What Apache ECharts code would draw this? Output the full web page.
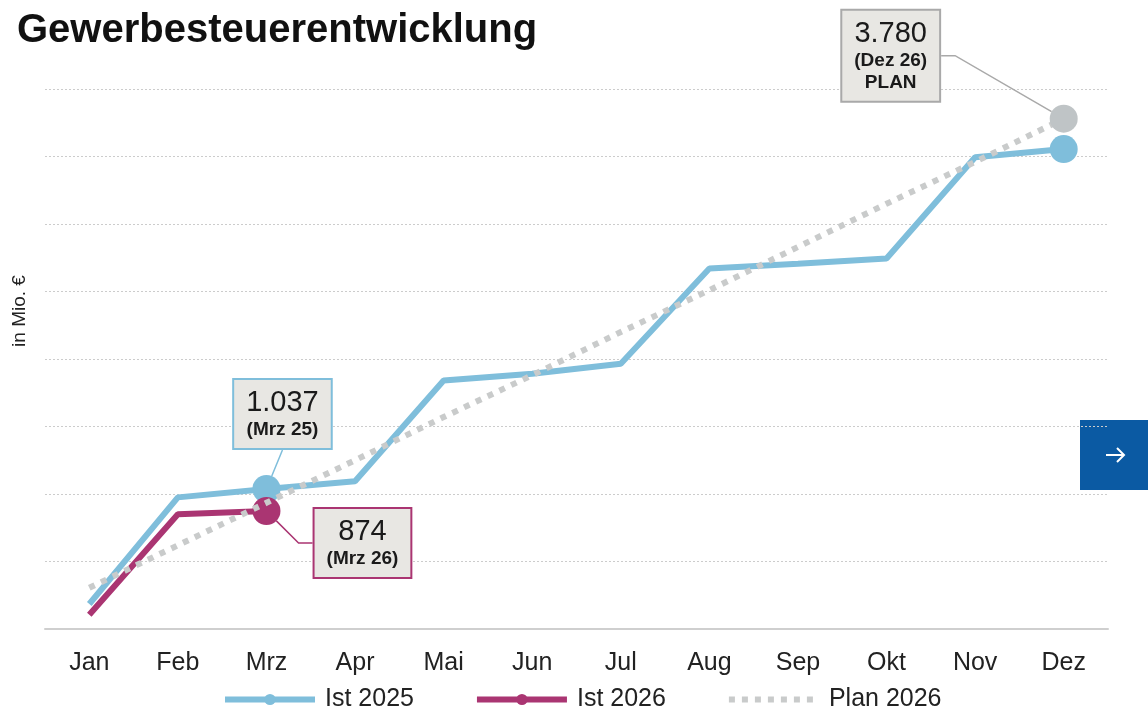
<!DOCTYPE html>
<html>
<head>
<meta charset="utf-8">
<script src="https://cdn.jsdelivr.net/npm/echarts@6/dist/echarts.min.js"></script>
<style>
  html, body { margin: 0; padding: 0; background: #fff; }
  #chart { width: 1148px; height: 713px; }
</style>
</head>
<body>
<div id="chart"></div>
<script>
var months = ['Jan', 'Feb', 'Mrz', 'Apr', 'Mai', 'Jun', 'Jul', 'Aug', 'Sep', 'Okt', 'Nov', 'Dez'];
var ist2025 = [185, 975, 1037, 1095, 1840, 1890, 1965, 2670, 2705, 2745, 3495, 3555];
var ist2026 = [105, 850, 874];
var plan2026 = [305, 620, 935, 1250, 1570, 1880, 2200, 2510, 2830, 3150, 3460, 3780];

var blue = '#7fbedb';
var magenta = '#aa3572';
var grey = '#c9cbcb';

function fmt(v) {
    return String(v).replace(/\B(?=(\d{3})+(?!\d))/g, '.');
}

// big dot + callout box on one point, all other points without symbol
function points(values, idx, color, text, lineColor, len2) {
    return values.map(function (v, i) {
        if (i !== idx) return { value: v, symbol: 'none' };
        return {
            value: v,
            symbol: 'circle',
            symbolSize: 28,
            itemStyle: { color: color },
            label: {
                show: true,
                position: 'inside',
                formatter: text,
                backgroundColor: '#e8e7e3',
                borderColor: lineColor,
                borderWidth: 2,
                padding: [7, 12, 7, 12],
                rich: {
                    v: { fontSize: 29, lineHeight: 32, color: '#1a1a1a', fontFamily: 'Liberation Sans' },
                    s: { fontSize: 19, lineHeight: 22, fontWeight: 'bold', color: '#1a1a1a', fontFamily: 'Liberation Sans' }
                }
            },
            labelLine: { show: true, length2: len2, lineStyle: { color: lineColor, width: 1.5 } }
        };
    });
}

var chart = echarts.init(document.getElementById('chart'));

var option = {
    animation: false,
    textStyle: { fontFamily: 'Liberation Sans' },
    title: {
        text: 'Gewerbesteuerentwicklung',
        left: 12,
        top: 6,
        textStyle: { fontSize: 40, fontWeight: 'bold', color: '#111' }
    },
    grid: { left: 45, right: 40, top: 89, bottom: 84 },
    legend: {
        left: 217,
        top: 682,
        itemWidth: 90,
        itemHeight: 14,
        itemGap: 60,
        lineStyle: { width: 6 },
        textStyle: { fontSize: 25, color: '#222', padding: [0, 0, 0, 5] },
        data: ['Ist 2025', 'Ist 2026', { name: 'Plan 2026', itemStyle: { opacity: 0 } }]
    },
    xAxis: {
        type: 'category',
        data: months,
        axisTick: { show: false },
        axisLine: { lineStyle: { color: '#cfcfcf', width: 2 } },
        axisLabel: { fontSize: 25, color: '#222', margin: 22 }
    },
    yAxis: {
        type: 'value',
        min: 0,
        max: 4000,
        interval: 500,
        axisLabel: { show: false },
        splitLine: { lineStyle: { color: '#cccccc', type: [2, 2], width: 1 } }
    },
    series: [
        {
            name: 'Ist 2025',
            type: 'line',
            symbol: 'circle',
            color: blue,
            lineStyle: { width: 6, color: blue },
            data: points(ist2025, 2, blue, '{v|' + fmt(ist2025[2]) + '}\n{s|(Mrz 25)}', blue, 0)
                .map(function (d, i) {
                    if (i === ist2025.length - 1) {
                        return { value: d.value, symbol: 'circle', symbolSize: 28 };
                    }
                    return d;
                }),
            labelLayout: function () { return { dx: 16, dy: -75 }; },
            z: 2
        },
        {
            name: 'Ist 2026',
            type: 'line',
            symbol: 'circle',
            color: magenta,
            lineStyle: { width: 6, color: magenta },
            data: points(ist2026, 2, magenta, '{v|' + fmt(ist2026[2]) + '}\n{s|(Mrz 26)}', magenta, 14),
            labelLayout: function () { return { dx: 96, dy: 32 }; },
            z: 3
        },
        {
            name: 'Plan 2026',
            type: 'line',
            symbol: 'none',
            color: grey,
            lineStyle: { width: 6, color: grey, type: [6, 7], cap: 'butt' },
            data: points(plan2026, 11, '#bfc4c6', '{v|' + fmt(plan2026[11]) + '}\n{s|(Dez 26)}\n{s|PLAN}', '#a9a9a9', 14),
            labelLayout: function () { return { dx: -173, dy: -63 }; },
            z: 4
        }
    ],
    graphic: [
        {
            type: 'text',
            x: 20,
            y: 311,
            rotation: Math.PI / 2,
            style: {
                text: 'in Mio. €',
                font: '19px "Liberation Sans"',
                fill: '#222',
                align: 'center',
                verticalAlign: 'middle'
            }
        },
        {
            type: 'group',
            right: 0,
            top: 420,
            children: [
                { type: 'rect', shape: { x: 0, y: 0, width: 68, height: 70 }, style: { fill: '#0b5aa3' } },
                {
                    type: 'polyline',
                    shape: { points: [[26, 35], [44, 35]] },
                    style: { stroke: '#fff', lineWidth: 2, fill: null }
                },
                {
                    type: 'polyline',
                    shape: { points: [[37, 28], [44, 35], [37, 42]] },
                    style: { stroke: '#fff', lineWidth: 2, fill: null }
                }
            ]
        }
    ]
};

chart.setOption(option);
</script>
</body>
</html>
